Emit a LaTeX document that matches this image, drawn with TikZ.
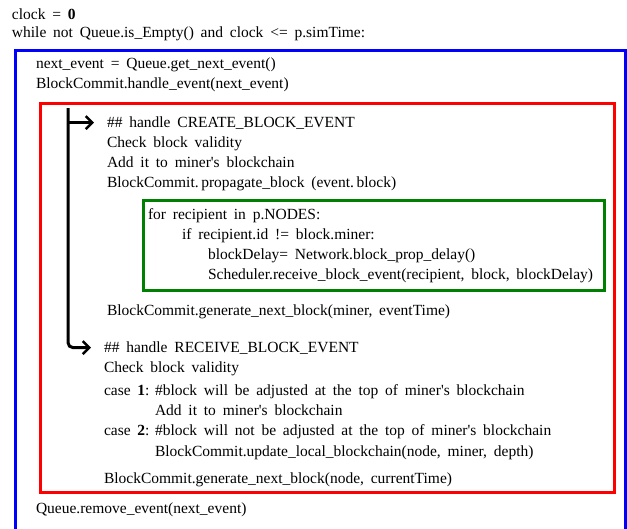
\documentclass[tikz,border=0pt]{standalone}
\usepackage{fontspec}
\setmainfont{Liberation Serif}
\usetikzlibrary{arrows.meta}

% code listing font with wide word spacing
\newcommand{\codefont}{\fontsize{15.5}{19}\selectfont\spaceskip=6.8pt plus 1pt minus 0pt\relax}

\tikzset{
  code/.style={anchor=base west, inner sep=0pt, outer sep=0pt, font=\codefont},
  loopbox/.style={draw={rgb,255:red,0;green,0;blue,255}, line width=3pt},
  eventbox/.style={draw={rgb,255:red,255;green,0;blue,0}, line width=3pt},
  sendbox/.style={draw={rgb,255:red,0;green,128;blue,0}, line width=3pt},
  dispatch/.style={draw=black, line width=3pt, rounded corners=5pt,
    -{Straight Barb[length=6.5pt,width=13pt,line width=2.5pt]}, shorten >=13pt},
}

\begin{document}
\begin{tikzpicture}[x=1pt, y=-1pt]
\useasboundingbox (0,0) rectangle (627,528);

% frames
\draw[loopbox] (15,532) -- (15,50) -- (625,50) -- (625,532);
\draw[eventbox] (40,103.5) rectangle (614.5,492.5);
\draw[sendbox] (143.5,200.5) rectangle (604.5,290.5);

% main loop
\node[code] (l1) at (12,19.5) {clock = \textbf{0}};
\node[code] (l2) at (12,37) {while not Queue.is\_Empty() and clock <= p.simTime:};
\node[code] (l3) at (36,68) {next\_event = Queue.get\_next\_event()};
\node[code] (l4) at (36,88) {BlockCommit.handle\_event(next\_event)};

% CREATE_BLOCK_EVENT branch
\node[code] (hc) at (107,127) {\#\# handle CREATE\_BLOCK\_EVENT};
\node[code] (c1) at (107,147) {Check block validity};
\node[code] (c2) at (107,167) {Add it to miner\textquotesingle s blockchain};
\node[code] (c3) at (107,187) {BlockCommit.\,propagate\_block (event.\,block)};

\node[code] (g1) at (148,219) {for recipient in p.NODES:};
\node[code] (g2) at (182,239) {if recipient.id != block.miner:};
\node[code] (g3) at (208,259) {blockDelay= Network.block\_prop\_delay()};
\node[code] (g4) at (208,279) {Scheduler.receive\_block\_event(recipient, block, blockDelay)};

\node[code] (c4) at (107,315) {BlockCommit.generate\_next\_block(miner, eventTime)};

% RECEIVE_BLOCK_EVENT branch
\node[code] (hr) at (104,352) {\#\# handle RECEIVE\_BLOCK\_EVENT};
\node[code] (r1) at (104,372) {Check block validity};
\node[code] (r2) at (104,395) {case \textbf{1}:};
\node[code] (r2b) at (155,395) {\#block will be adjusted at the top of miner\textquotesingle s blockchain};
\node[code] (r3) at (155,415) {Add it to miner\textquotesingle s blockchain};
\node[code] (r4) at (104,435) {case \textbf{2}:};
\node[code] (r4b) at (155,435) {\#block will not be adjusted at the top of miner\textquotesingle s blockchain};
\node[code] (r5) at (155,456) {BlockCommit.update\_local\_blockchain(node, miner, depth)};
\node[code] (r6) at (104,483) {BlockCommit.generate\_next\_block(node, currentTime)};

\node[code] (l5) at (36,513) {Queue.remove\_event(next\_event)};

% event dispatch arrows
\coordinate (trunk) at (68,108);
\draw[dispatch] (trunk |- hc.west) -- (hc.west);
\draw[dispatch] (trunk) |- (hr.west);
\end{tikzpicture}
\end{document}
